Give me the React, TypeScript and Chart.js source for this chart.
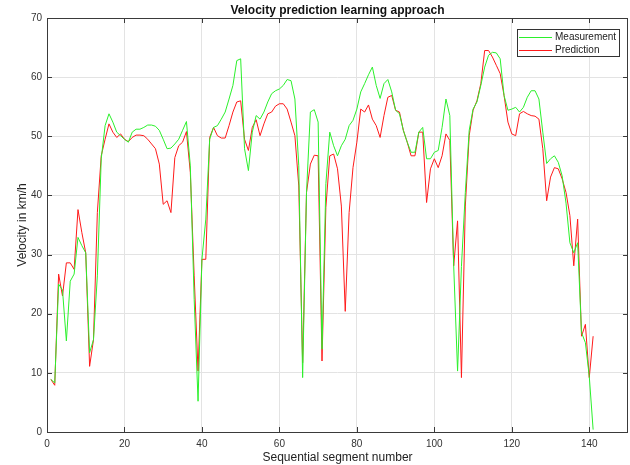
import React, { useEffect, useRef } from "react";
import { Chart, registerables } from "chart.js";

Chart.register(...registerables);

const chartTitle = "Velocity prediction learning approach";
const xTitle = "Sequential segment number";
const yTitle = "Velocity in km/h";
const seriesNames = ["Measurement", "Prediction"];
const xTicks = [0, 20, 40, 60, 80, 100, 120, 140];
const yTicks = [0, 10, 20, 30, 40, 50, 60, 70];

const measurement = [
  8.9, 8.3, 25, 24, 15.4, 25.5, 26.7, 32.9, 31.5, 30.3,
  13.4, 15.6, 26.4, 46.2, 51.8, 53.8, 52.4, 50.7, 50.1, 49.5,
  49.0, 50.7, 51.2, 51.2, 51.5, 51.9, 51.9, 51.7, 51.0, 49.5,
  47.9, 48.0, 48.7, 49.5, 51.0, 52.5, 45.0, 22.4, 5.2, 29.2,
  36, 49.5, 51.5, 51.8, 52.9, 54.1, 56.3, 58.6, 62.8, 63.1,
  47.9, 44.2, 50.7, 53.5, 52.9, 54.1, 55.8, 57.2, 57.7, 58.0,
  58.6, 59.6, 59.4, 56.3, 45.0, 9.2, 40.5, 54.1, 54.5, 52.4,
  14.0, 42, 50.7, 48.4, 46.7, 48.4, 49.5, 51.8, 52.7, 54.6,
  57.5, 58.9, 60.4, 61.7, 58.6, 56.4, 58.9, 59.6, 57.5, 54.4,
  53.8, 51.0, 49.0, 47.3, 47.3, 50.7, 51.5, 46.2, 46.2, 47.3,
  47.6, 51.5, 56.3, 53.5, 28.1, 10.3, 28, 40.5, 51.0, 54.6,
  55.8, 58.6, 61.7, 63.7, 64.2, 64.1, 63.1, 56.9, 54.4, 54.6,
  54.9, 54.1, 54.9, 56.6, 57.7, 57.7, 56.3, 50.7, 45.4, 46.2,
  46.7, 45.6, 43.3, 38.7, 32.0, 30.3, 32.0, 16.8, 15.1, 9.4,
  0.4,
];

const prediction = [
  8.9, 7.9, 26.7, 23, 28.6, 28.6, 27.5, 37.6, 33.7, 30.3,
  11.1, 15.6, 37.1, 46.7, 49.5, 52.1, 50.7, 49.8, 50.4, 49.5,
  49.1, 49.8, 50.2, 50.2, 50.1, 49.5, 48.7, 47.9, 45.3, 38.5,
  39.1, 37.1, 46.4, 48.4, 49.0, 50.8, 43.9, 26.4, 10.3, 29.2,
  29.2, 49.8, 51.5, 50.1, 49.7, 49.7, 51.8, 54.1, 55.8, 56.0,
  49.5, 47.6, 51.5, 52.8, 50.1, 52.1, 53.8, 54.1, 55.1, 55.5,
  55.5, 54.6, 52.4, 50.1, 41.6, 11.7, 40.5, 45.3, 46.8, 46.7,
  12.0, 38, 46.7, 47.0, 44.5, 38.2, 20.4, 37.1, 44.7, 49.0,
  54.6, 54.1, 55.3, 52.9, 51.8, 49.8, 53.5, 56.6, 56.9, 54.4,
  54.1, 51.0, 49.0, 46.7, 46.7, 50.7, 50.7, 38.8, 44.5, 46.2,
  44.7, 46.7, 50.4, 49.3, 28.1, 35.7, 9.2, 38.2, 50.1, 54.4,
  56.0, 58.9, 64.5, 64.5, 63.4, 62.0, 60.6, 56.9, 52.4, 50.4,
  50.1, 53.8, 54.2, 53.8, 53.5, 53.4, 52.9, 47.9, 39.1, 43.1,
  44.7, 44.5, 42.8, 40.5, 36.6, 28.1, 36.0, 16.2, 18.2, 9.2,
  16.2,
];

const segments = measurement.map((_, i) => i + 1);

const FONT = "'Liberation Sans', Arial, Helvetica, sans-serif";
const GREEN = "#2bf02b";
const RED = "#ff1a1a";
const AXIS = "#3a3a3a";

const framePlugin = {
  id: "matlabFrame",
  afterDraw(chart: any) {
    const { ctx, chartArea: a, scales } = chart;
    ctx.save();
    ctx.strokeStyle = AXIS;
    ctx.lineWidth = 1;
    ctx.strokeRect(Math.round(a.left) + 0.5, Math.round(a.top) + 0.5, Math.round(a.right - a.left) - 1, Math.round(a.bottom - a.top));
    const tl = 5;
    ctx.beginPath();
    xTicks.forEach((v) => {
      const px = Math.round(scales.x.getPixelForValue(v)) + 0.5;
      ctx.moveTo(px, a.bottom);
      ctx.lineTo(px, a.bottom - tl);
      ctx.moveTo(px, a.top);
      ctx.lineTo(px, a.top + tl);
    });
    yTicks.forEach((v) => {
      const py = Math.round(scales.y.getPixelForValue(v)) + 0.5;
      ctx.moveTo(a.left, py);
      ctx.lineTo(a.left + tl, py);
      ctx.moveTo(a.right, py);
      ctx.lineTo(a.right - tl, py);
    });
    ctx.stroke();
    ctx.fillStyle = "#111";
    ctx.font = `bold 12px ${FONT}`;
    ctx.textAlign = "center";
    ctx.textBaseline = "middle";
    ctx.fillText(chartTitle, (a.left + a.right) / 2, 10.5);
    const lx = 517, ly = 29, lw = 102, lh = 27;
    ctx.fillStyle = "#fff";
    ctx.fillRect(lx, ly, lw, lh);
    ctx.strokeStyle = "#333";
    ctx.strokeRect(lx + 0.5, ly + 0.5, lw, lh);
    ctx.font = `10px ${FONT}`;
    ctx.textAlign = "left";
    const colors = [GREEN, RED];
    seriesNames.forEach((name, i) => {
      const y = ly + 7.5 + i * 13;
      ctx.strokeStyle = colors[i];
      ctx.lineWidth = 1;
      ctx.beginPath();
      ctx.moveTo(lx + 2, Math.round(y) + 0.5);
      ctx.lineTo(lx + 35, Math.round(y) + 0.5);
      ctx.stroke();
      ctx.fillStyle = "#222";
      ctx.fillText(name, lx + 38, y + 0.5);
    });
    ctx.restore();
  },
};

export default function App() {
  const ref = useRef<HTMLCanvasElement | null>(null);
  useEffect(() => {
    document.body.style.margin = "0";
    const canvas = ref.current;
    if (!canvas) return;
    const chart = new Chart(canvas, {
      type: "line",
      data: {
        datasets: [
          {
            label: seriesNames[0],
            data: segments.map((x, i) => ({ x, y: measurement[i] })),
            borderColor: GREEN,
            borderWidth: 1,
            pointRadius: 0,
            tension: 0,
          },
          {
            label: seriesNames[1],
            data: segments.map((x, i) => ({ x, y: prediction[i] })),
            borderColor: RED,
            borderWidth: 1,
            pointRadius: 0,
            tension: 0,
          },
        ],
      },
      options: {
        animation: false,
        responsive: false,
        maintainAspectRatio: false,
        layout: { padding: { top: 18, right: 2, left: 0, bottom: 0 } },
        plugins: {
          legend: { display: false },
          title: { display: false },
          tooltip: { enabled: false },
        },
        scales: {
          x: {
            type: "linear",
            min: 0,
            max: 150,
            afterFit: (s: any) => { s.height = 33; },
            afterBuildTicks: (s: any) => { s.ticks = xTicks.map((v) => ({ value: v })); },
            grid: { color: "#e3e3e3", drawTicks: false },
            border: { display: false },
            ticks: { padding: 6, color: "#333", font: { family: FONT, size: 10 }, maxRotation: 0 },
            title: { display: true, text: xTitle, color: "#222", font: { family: FONT, size: 12 }, padding: { top: 0, bottom: 0 } },
          },
          y: {
            type: "linear",
            min: 0,
            max: 70,
            afterFit: (s: any) => { s.width = 47; },
            afterBuildTicks: (s: any) => { s.ticks = yTicks.map((v) => ({ value: v })); },
            grid: { color: "#e3e3e3", drawTicks: false },
            border: { display: false },
            ticks: { padding: 5, color: "#333", font: { family: FONT, size: 10 } },
            title: { display: true, text: yTitle, color: "#222", font: { family: FONT, size: 12 }, padding: { top: 15, bottom: 0 } },
          },
        },
      },
      plugins: [framePlugin],
    });
    return () => chart.destroy();
  }, []);
  return (
    <div style={{ width: 630, height: 465, background: "#fff" }}>
      <canvas ref={ref} width={630} height={465} style={{ display: "block" }} />
    </div>
  );
}
